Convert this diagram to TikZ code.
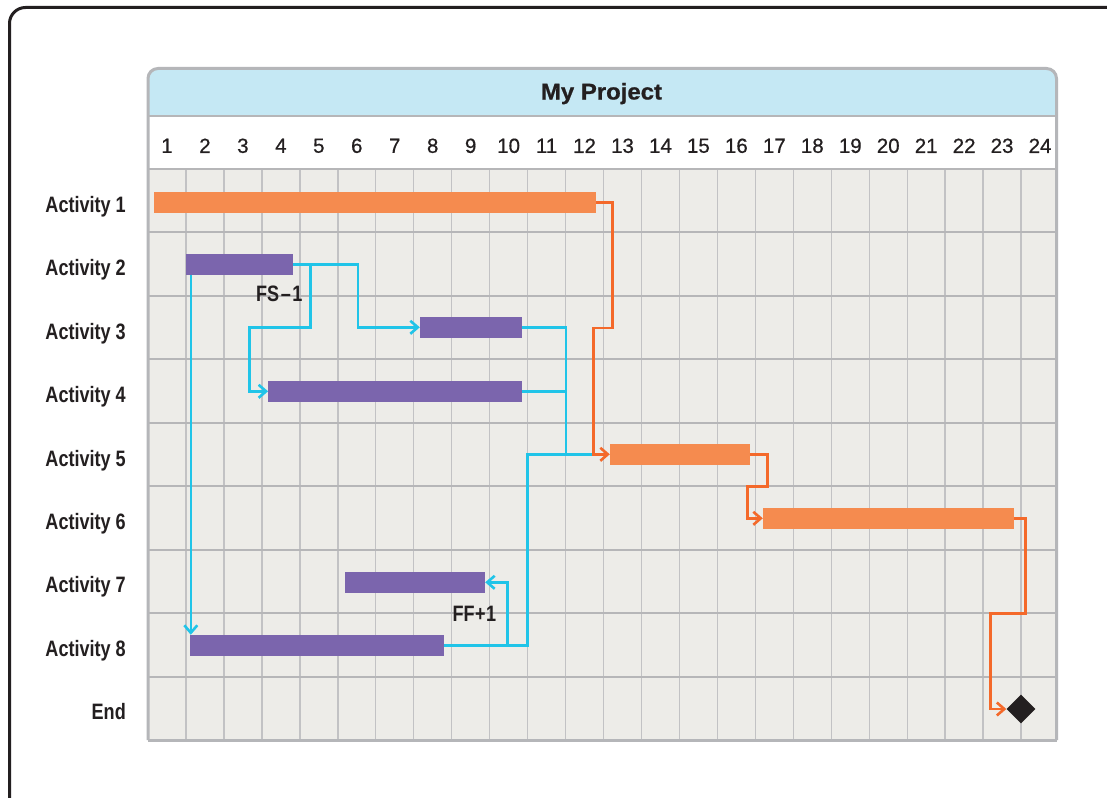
\documentclass[tikz,border=0pt]{standalone}
\usepackage{fontspec}
\setmainfont{Liberation Sans}
\newfontfamily\lblfont[FakeStretch=0.81]{Liberation Sans}
\newfontfamily\ttlfont[FakeStretch=1.05,FakeBold=0.8]{Liberation Sans}
\newfontfamily\numfont[FakeBold=0.6]{Liberation Sans}
\usetikzlibrary{arrows.meta,shapes.geometric,calc}
\definecolor{framec}{HTML}{231F20}
\definecolor{borderc}{HTML}{B5B6B9}
\definecolor{titlebg}{HTML}{C5E8F4}
\definecolor{gridbg}{HTML}{EDECE8}
\definecolor{vlinec}{HTML}{C2C2C4}
\definecolor{hlinec}{HTML}{B6B6B8}
\definecolor{orbar}{HTML}{F58B4F}
\definecolor{orline}{HTML}{F4692A}
\definecolor{pubar}{HTML}{7B65AD}
\definecolor{blline}{HTML}{20C4E8}
\definecolor{textc}{HTML}{231F20}
\begin{document}
\begin{tikzpicture}[x=1pt,y=-1pt,
  obar/.style={rectangle, fill=orbar, draw=none, inner sep=0pt, minimum height=20.7},
  pbar/.style={rectangle, fill=pubar, draw=none, inner sep=0pt, minimum height=20.7},
  tipc/.style={-{Straight Barb[length=7.5pt,width=13pt]}},
  bcon/.style={draw=blline, line width=2.6pt},
  ocon/.style={draw=orline, line width=2.6pt},
  vline/.style={draw=vlinec, line width=1.4pt},
  hline/.style={draw=hlinec, line width=2pt},
  actlbl/.style={font=\lblfont\bfseries\fontsize{22.3}{26}\selectfont, text=textc, inner sep=0pt},
  numlbl/.style={font=\numfont\fontsize{20.5}{24}\selectfont, text=textc, inner sep=0pt},
  ttl/.style={font=\ttlfont\bfseries\fontsize{22.8}{26}\selectfont, text=textc, inner sep=0pt},
  endmark/.style={diamond, fill=framec, inner sep=0pt, minimum width=29, minimum height=29}
]
\useasboundingbox (0,0) rectangle (1107,797);
\clip (0,0) rectangle (1107,797);
\fill[white] (0,0) rectangle (1107,797);
% outer frame
\draw[framec, line width=3pt, rounded corners=16] (9.5,7.5) rectangle (1130,815);
% chart background
\fill[titlebg, rounded corners=10] (148,68.5) rectangle (1056.5,140);
\fill[white] (148,116) rectangle (1056.5,169);
\fill[gridbg] (148,169) rectangle (1056.5,740);
\foreach \k in {1,...,23} \draw[vline] ({148+\k*37.96},169) -- ({148+\k*37.96},740);
\foreach \k in {1,...,8} \draw[hline] (148,{169+\k*63.45}) -- (1056.5,{169+\k*63.45});
\draw[hline] (148,169) -- (1056.5,169);
\draw[hline] (148,116) -- (1056.5,116);
% border
\draw[borderc, line width=3pt, rounded corners=10] (148,740) -- (148,68.5) -- (1056.5,68.5) -- (1056.5,740);
\draw[borderc, line width=3pt, line cap=square] (148,740) -- (1056.5,740);
% title and column numbers
\node[ttl, anchor=base] (title) at (601.5,99.5) {My Project};
\foreach \k in {1,...,24} \node[numlbl] (n\k) at ({148+(\k-0.5)*37.96},145.8) {\k};
% row labels
\foreach \k/\t in {1/Activity 1,2/Activity 2,3/Activity 3,4/Activity 4,5/Activity 5,6/Activity 6,7/Activity 7,8/Activity 8,9/End}
  \node[actlbl, anchor=base east] (L\k) at (126,{169+(\k-0.5)*63.45+11.5}) {\t};
% bars
\node[obar, minimum width=442] (a1) at (375,202.2) {};
\node[pbar, minimum width=107] (a2) at (239.5,264.3) {};
\node[pbar, minimum width=102] (a3) at (471,327.3) {};
\node[pbar, minimum width=253.7] (a4) at (395.15,391.3) {};
\node[obar, minimum width=140] (a5) at (680,454.3) {};
\node[obar, minimum width=251] (a6) at (888.5,518.3) {};
\node[pbar, minimum width=140] (a7) at (415,582.3) {};
\node[pbar, minimum width=254] (a8) at (317,645.3) {};
\node[endmark] (end) at (1021,709) {};
% blue links
\draw[bcon, tipc] (a2.east) -- ++(64.7,0) |- (a3.west);
\coordinate (j24) at ($(a2.east)+(17.3,0)$);
\draw[bcon, tipc] (j24) |- (249.7,327.3) |- (a4.west);
\draw[bcon, tipc] ($(a2.south west)+(5,0)$) -- ($(a8.north west)+(1,0)$);
\draw[bcon] (a3.east) -| (566,454.3);
\draw[bcon] (a4.east) -- (566,391.3);
\draw[bcon] (a8.east) -| (527.7,454.3) -- (593.3,454.3);
\coordinate (j87) at ($(a8.east)+(63.3,0)$);
\draw[bcon, tipc] (j87) |- (a7.east);
% orange links
\draw[ocon, tipc] (a1.east) -- ++(16.5,0) |- (593.3,328) |- (a5.west);
\draw[ocon, tipc] (a5.east) -- ++(17,0) |- (747.7,486.7) |- (a6.west);
\draw[ocon, tipc] (a6.east) -- ++(11,0) |- (990.7,613.5) |- (end.west);
% lag labels
\node[actlbl, anchor=base west] (fs) at (256,301.7) {FS\kern1.5pt–\kern1.5pt1};
\node[actlbl, anchor=base west] (ff) at (452.3,621.7) {FF\kern0.5pt+\kern0.5pt1};
\end{tikzpicture}
\end{document}
